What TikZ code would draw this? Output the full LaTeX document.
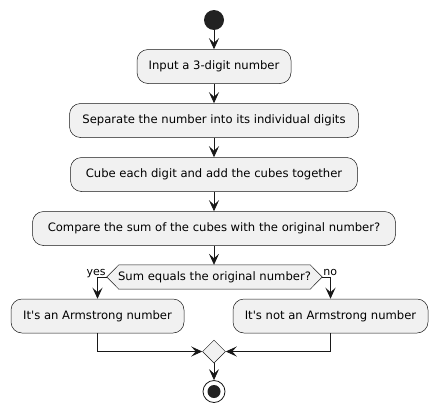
\documentclass[tikz,border=0pt]{standalone}
\usepackage{fontspec}
\setmainfont{DejaVu Sans}
\usetikzlibrary{arrows.meta,backgrounds,shapes.geometric}
\definecolor{boxfill}{HTML}{F1F1F1}
\definecolor{ink}{HTML}{181818}
\definecolor{dot}{HTML}{222222}
\begin{document}
\begin{tikzpicture}[x=1pt,y=-1pt,
  act/.style={draw=ink, line width=0.5pt, fill=boxfill, rounded corners=11pt,
    minimum height=34pt, inner xsep=0pt, font=\fontsize{11.6}{14}\selectfont, text=black},
  flow/.style={draw=ink, line width=0.8pt, -{Stealth[length=11pt,width=10pt,inset=4.5pt]}},
  lbl/.style={font=\fontsize{11}{13}\selectfont, inner sep=0pt, text=black}]
\useasboundingbox (0,0) rectangle (438,415);
\begin{pgfonlayer}{background}
\fill[white] (0,0) rectangle (438,415);
\end{pgfonlayer}

\node[circle, fill=dot, minimum size=20pt, inner sep=0pt] (start) at (214,20) {};
\node[act, minimum width=154pt] (a1) at (214,66.5) {Input a 3-digit number};
\node[act, minimum width=289pt] (a2) at (214,120.5) {Separate the number into its individual digits};
\node[act, minimum width=287pt] (a3) at (214,174.5) {Cube each digit and add the cubes together};
\node[act, minimum width=363pt] (a4) at (214,228.5) {Compare the sum of the cubes with the original number?};
\node[minimum width=215pt, minimum height=24pt, inner sep=0pt, font=\fontsize{11.6}{14}\selectfont] (dec) at (214.5,277) {Sum equals the original number?};
\begin{pgfonlayer}{background}
\draw[ink, line width=0.5pt, fill=boxfill] (dec.west) -- ([xshift=12pt]dec.north west) -- ([xshift=-12pt]dec.north east) -- (dec.east) -- ([xshift=-12pt]dec.south east) -- ([xshift=12pt]dec.south west) -- cycle;
\end{pgfonlayer}
\node[act, minimum width=173pt] (yesb) at (97.5,316) {It\textquotesingle s an Armstrong number};
\node[act, minimum width=195pt] (nob) at (330.5,316) {It\textquotesingle s not an Armstrong number};
\node[diamond, draw=ink, line width=0.5pt, fill=boxfill, minimum size=23pt, inner sep=0pt] (merge) at (214,351.5) {};
\node[circle, draw=ink, line width=0.8pt, fill=white, minimum size=22pt, inner sep=0pt] (stop) at (214,391.5) {};
\fill[dot] (stop.center) circle (6.5pt);

\node[lbl, anchor=base east] (ly) at ([yshift=2pt,xshift=-1pt]dec.west) {yes};
\node[lbl, anchor=base west] (ln) at ([yshift=2pt,xshift=1pt]dec.east) {no};

\draw[flow] (start) -- (a1);
\draw[flow] (a1) -- (a2);
\draw[flow] (a2) -- (a3);
\draw[flow] (a3) -- (a4);
\draw[flow] (a4.south) -- (a4.south |- dec.north);
\draw[flow] (dec.west) -| (yesb.north);
\draw[flow] (dec.east) -| (nob.north);
\draw[flow] (yesb.south) |- (merge.west);
\draw[flow] (nob.south) |- (merge.east);
\draw[flow] (merge) -- (stop);
\end{tikzpicture}
\end{document}
